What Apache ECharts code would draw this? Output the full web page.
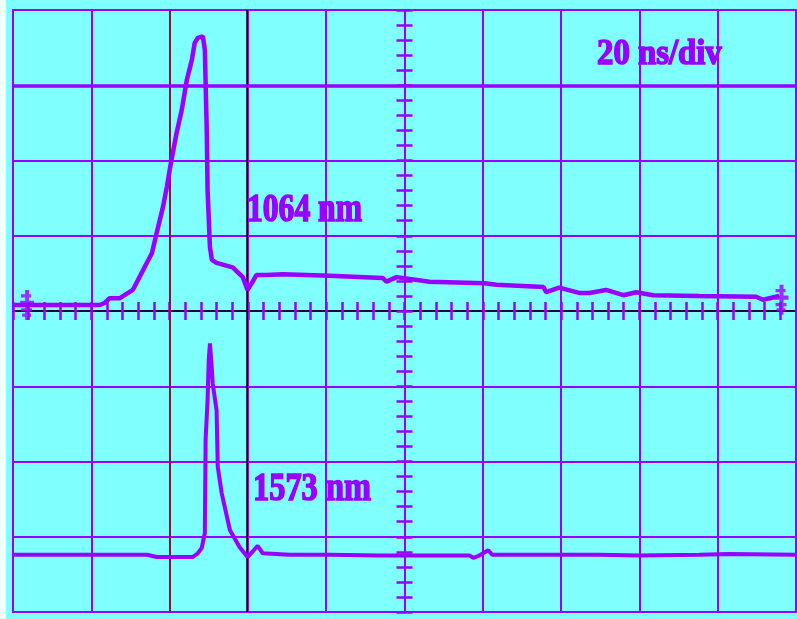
<!DOCTYPE html>
<html>
<head>
<meta charset="utf-8">
<script src="https://cdn.jsdelivr.net/npm/echarts@6/dist/echarts.min.js"></script>
<style>
html,body{margin:0;padding:0;background:#80FFFF;}
#chart{width:797px;height:619px;}
</style>
</head>
<body>
<div id="chart"></div>
<script>
// ---- data (time in ns, amplitude in divisions) ----
const t1064 = [0, 12.8, 22.2, 23.5, 24.7, 27.3, 30.6, 33.2, 35.5, 36.7, 38.3, 39.3, 40.1, 41.0, 41.8, 43.1, 44.4, 45.7, 46.4, 47.2, 48.5, 49.0, 49.5, 49.7, 50.3, 50.8, 52.0, 56.1, 58.7, 59.9, 61.0, 62.2, 64.8, 68.9, 80.9, 94.4, 95.4, 98.0, 106.4, 120.4, 123.5, 135.5, 136.2, 139.5, 144.6, 147.2, 151.5, 155.9, 159.2, 163.5, 175.3, 189.8, 191.6, 195.7];
const v1064 = [0.08, 0.08, 0.08, 0.11, 0.17, 0.17, 0.28, 0.54, 0.77, 1.04, 1.38, 1.65, 1.90, 2.15, 2.37, 2.67, 3.07, 3.34, 3.56, 3.63, 3.65, 3.47, 2.37, 1.61, 0.85, 0.68, 0.64, 0.58, 0.45, 0.28, 0.37, 0.48, 0.48, 0.49, 0.47, 0.44, 0.39, 0.45, 0.39, 0.37, 0.35, 0.32, 0.25, 0.31, 0.24, 0.24, 0.28, 0.21, 0.25, 0.21, 0.20, 0.19, 0.15, 0.20];
const t1573 = [0, 19.6, 34.2, 36.7, 40.1, 45.9, 47.2, 48.2, 49.0, 49.2, 49.7, 50.0, 50.3, 50.8, 51.0, 52.0, 52.3, 53.3, 55.4, 57.9, 59.9, 61.5, 62.5, 63.8, 70.7, 80.9, 93.6, 116.6, 117.6, 119.1, 121.4, 122.4, 149.7, 160.0, 175.3, 182.9, 200];
const v1573 = [-3.24, -3.24, -3.24, -3.27, -3.27, -3.27, -3.22, -3.15, -2.95, -1.71, -1.18, -0.65, -0.43, -0.78, -0.96, -1.32, -2.07, -2.42, -2.91, -3.14, -3.27, -3.18, -3.12, -3.22, -3.24, -3.24, -3.25, -3.25, -3.28, -3.25, -3.18, -3.24, -3.24, -3.25, -3.24, -3.23, -3.24];
const cursorTimes = [40.05, 59.7];
const refLevel = 3;
const markerTimes = [3.6, 196.3];
const markerLevels = [0.08, 0.15];
const labelTimebase = '20 ns/div';
const label1064 = '1064 nm';
const label1573 = '1573 nm';

const PURPLE = '#9900FF';
const zip = (a, b) => a.map((x, i) => [x, b[i]]);

const chart = echarts.init(document.getElementById('chart'), null, {renderer: 'canvas'});
const hidden = {show: false};
const textStyle = (txt, size) => ({text: txt, fill: PURPLE, stroke: PURPLE, lineWidth: 1.6,
  font: 'bold ' + size + 'px "Liberation Serif"', textVerticalAlign: 'bottom'});
const option = {
  backgroundColor: '#80FFFF',
  animation: false,
  grid: {left: 13, right: 1, top: 10, bottom: 7, show: true, borderColor: PURPLE, borderWidth: 2, backgroundColor: 'transparent'},
  xAxis: [
    {type: 'value', min: 0, max: 200, interval: 20, axisLine: hidden, axisTick: hidden, axisLabel: hidden,
     splitLine: {show: true, lineStyle: {color: PURPLE, width: 2}}},
    {type: 'value', min: 0, max: 200, interval: 4, position: 'bottom',
     axisLine: {show: true, onZero: true, onZeroAxisIndex: 0, lineStyle: {color: '#000', width: 1.5}},
     axisTick: {show: true, length: 9, inside: false, lineStyle: {color: PURPLE, width: 2.5}},
     axisLabel: hidden, splitLine: hidden},
    {type: 'value', min: 0, max: 200, interval: 4, position: 'top',
     axisLine: {show: false, onZero: true, onZeroAxisIndex: 0},
     axisTick: {show: true, length: 9, inside: false, lineStyle: {color: PURPLE, width: 2.5}},
     axisLabel: hidden, splitLine: hidden}
  ],
  yAxis: [
    {type: 'value', min: -4, max: 4, interval: 1, axisLine: hidden, axisTick: hidden, axisLabel: hidden,
     splitLine: {show: true, lineStyle: {color: PURPLE, width: 2}}},
    {type: 'value', min: -4, max: 4, interval: 0.2, position: 'left', offset: -391.5,
     axisLine: {show: true, onZero: false, lineStyle: {color: PURPLE, width: 1.5}},
     axisTick: {show: true, length: 8, inside: false, lineStyle: {color: PURPLE, width: 2.5}},
     axisLabel: hidden, splitLine: hidden},
    {type: 'value', min: -4, max: 4, interval: 0.2, position: 'right', offset: -391.5,
     axisLine: {show: false, onZero: false},
     axisTick: {show: true, length: 8, inside: false, lineStyle: {color: PURPLE, width: 2.5}},
     axisLabel: hidden, splitLine: hidden}
  ],
  series: [
    {type: 'line', name: '1064', data: zip(t1064, v1064), showSymbol: false, symbol: 'none',
     lineStyle: {color: PURPLE, width: 4.5}, z: 5,
     markLine: {silent: true, symbol: 'none', label: hidden, animation: false,
       data: [
         {xAxis: cursorTimes[0], lineStyle: {color: '#8B1A00', width: 1.5, type: 'solid'}},
         {xAxis: cursorTimes[1], lineStyle: {color: '#000000', width: 1.5, type: 'solid'}},
         {yAxis: refLevel, lineStyle: {color: PURPLE, width: 3.5, type: 'solid'}}
       ]}},
    {type: 'line', name: '1573', data: zip(t1573, v1573), showSymbol: false, symbol: 'none',
     lineStyle: {color: PURPLE, width: 4}, z: 5},
    {type: 'scatter', data: zip(markerTimes, markerLevels), symbolSize: [14, 30], z: 6,
     symbol: 'path://M5 0h4v28h-4z M1 4h10v3h-10z M0 10h14v4h-14z M1 17h11v3h-11z M2 22h9v3h-9z',
     itemStyle: {color: PURPLE}}
  ],
  graphic: [
    {type: 'rect', left: 0, top: 0, shape: {width: 6, height: 619}, style: {fill: '#F2FFFF'}, z: 1},
    {type: 'text', x: 597, y: 73, scaleX: 0.91, style: textStyle(labelTimebase, 36), z: 10},
    {type: 'text', x: 247, y: 231, scaleX: 0.79, style: textStyle(label1064, 40), z: 10},
    {type: 'text', x: 253, y: 510, scaleX: 0.81, style: textStyle(label1573, 40), z: 10}
  ]
};
chart.setOption(option);
</script>
</body>
</html>
